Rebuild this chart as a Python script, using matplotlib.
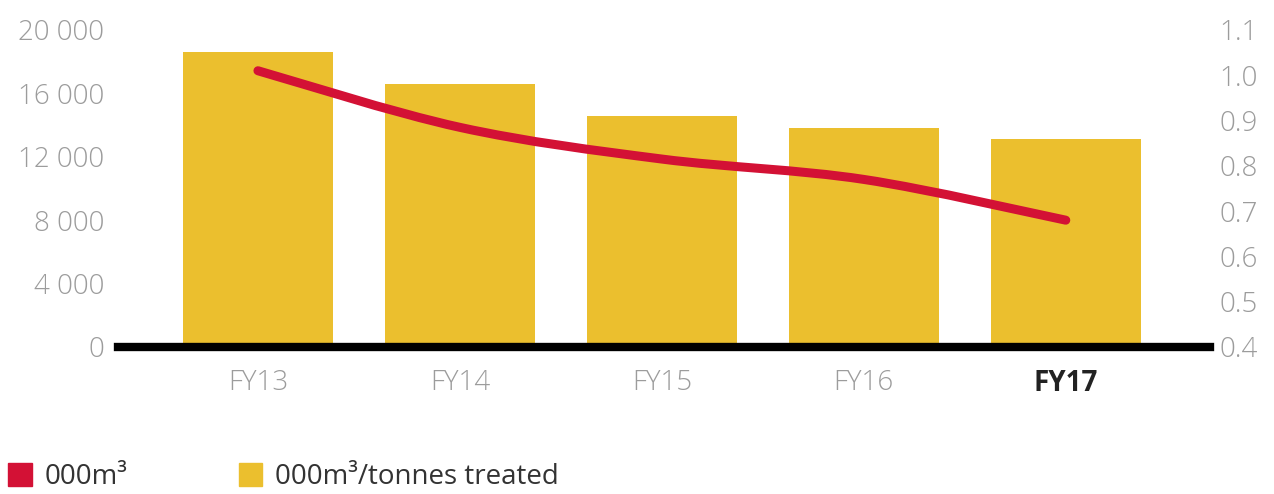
import matplotlib
matplotlib.use("Agg")
import matplotlib.pyplot as plt
from matplotlib.path import Path
from matplotlib.patches import PathPatch, Patch
import numpy as np

plt.rcParams['font.family'] = ['Open Sans', 'DejaVu Sans']
plt.rcParams['font.weight'] = 'light'

# Data
years = ["FY13", "FY14", "FY15", "FY16", "FY17"]
volume = [18600, 16600, 14600, 13800, 13100]          # bars, left axis
intensity = [1.01, 0.885, 0.815, 0.77, 0.68]         # line, right axis
left_ticks = [0, 4000, 8000, 12000, 16000, 20000]
right_ticks = [0.4, 0.5, 0.6, 0.7, 0.8, 0.9, 1.0, 1.1]

BAR_COLOR = "#EBBF2E"
LINE_COLOR = "#D31135"
TICK_GRAY = "#9c9c9c"

fig = plt.figure(figsize=(12.74, 4.94), dpi=100)
ax = fig.add_axes([0.0926, 0.2976, 0.857, 0.6417])
ax2 = ax.twinx()

x = np.arange(len(years))
ax.bar(x, volume, width=0.74, color=BAR_COLOR, zorder=2)
ax.set_xlim(-0.693, 4.713)
ax.set_ylim(0, 20000)
ax.set_yticks(left_ticks)
ax.set_yticklabels([f"{v:,}".replace(",", " ") for v in left_ticks])
ax.set_xticks(x)
ax.set_xticklabels(years)

ax2.set_ylim(0.4, 1.1)
ax2.set_yticks(right_ticks)
ax2.set_yticklabels([f"{v:.1f}" for v in right_ticks])

# Smooth line through the yearly values (Catmull-Rom as cubic Bezier)
px = list(x.astype(float))
py = list(intensity)
verts = [(px[0], py[0])]
codes = [Path.MOVETO]
for i in range(len(px) - 1):
    p0 = (px[max(i - 1, 0)], py[max(i - 1, 0)])
    p1 = (px[i], py[i])
    p2 = (px[i + 1], py[i + 1])
    p3 = (px[min(i + 2, len(px) - 1)], py[min(i + 2, len(px) - 1)])
    c1 = (p1[0] + (p2[0] - p0[0]) / 6, p1[1] + (p2[1] - p0[1]) / 6)
    c2 = (p2[0] - (p3[0] - p1[0]) / 6, p2[1] - (p3[1] - p1[1]) / 6)
    verts += [c1, c2, p2]
    codes += [Path.CURVE4] * 3
ax2.add_patch(PathPatch(Path(verts, codes), facecolor="none", edgecolor=LINE_COLOR,
                        linewidth=6.5, capstyle="round", joinstyle="round", zorder=3))

for a in (ax, ax2):
    for s in ("top", "left", "right", "bottom"):
        a.spines[s].set_visible(False)
    a.tick_params(length=0, labelsize=20, colors=TICK_GRAY)
ax.tick_params(axis="y", pad=10)
ax2.tick_params(axis="y", pad=7)
ax.tick_params(axis="x", pad=16)
xl = ax.get_xticklabels()
xl[-1].set_color("#222222")
xl[-1].set_fontweight("bold")

# Heavy baseline
ax.axhline(0, color="black", linewidth=6, zorder=4, clip_on=False)

handles = [Patch(color=LINE_COLOR, label="000m³"),
           Patch(color=BAR_COLOR, label="000m³/tonnes treated")]
fig.legend(handles=handles, loc="lower left", bbox_to_anchor=(-0.013, -0.045), ncol=2,
           frameon=False, prop={"size": 20, "weight": "normal"},
           handlelength=0.85, handleheight=0.9,
           handletextpad=0.45, columnspacing=4.0, labelcolor="#333333")

fig.savefig("out.png", dpi=100)
